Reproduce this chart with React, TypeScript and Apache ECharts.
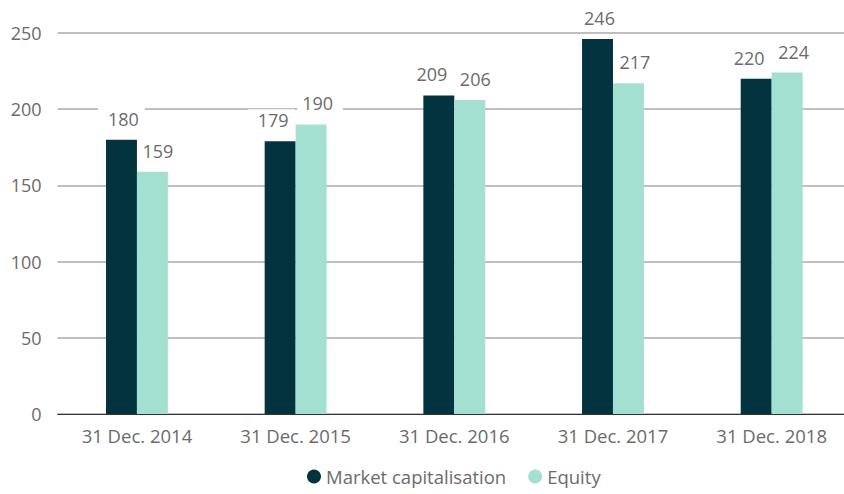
import React, { useEffect, useRef } from "react";
import * as echarts from "echarts";

const categories = ["31 Dec. 2014", "31 Dec. 2015", "31 Dec. 2016", "31 Dec. 2017", "31 Dec. 2018"];
const marketCap = [180, 179, 209, 246, 220];
const equity = [159, 190, 206, 217, 224];
const seriesNames = ["Market capitalisation", "Equity"];
// horizontal nudge of value labels where neighbouring labels would collide
const marketCapLabelShift = [0, -9, -9, 0, -9];
const equityLabelShift = [8, 9, 8, 9, 9];

const FONT = "'Open Sans', 'Noto Sans', sans-serif";
const TXT = "#6b6b6b";
const FS = 18.5;

export default function App() {
  const ref = useRef<HTMLDivElement>(null);
  useEffect(() => {
    if (!ref.current) return;
    const chart = echarts.init(ref.current, null, { renderer: "svg" });
    const label = {
      show: true,
      position: "top",
      distance: 10,
      color: TXT,
      fontSize: 18,
      fontFamily: FONT,
      backgroundColor: "#fff",
    };
    const build = (vals: number[], shifts: number[], padding: number[]) =>
      vals.map((v, i) => ({ value: v, label: { offset: [shifts[i], 0], padding } }));
    chart.setOption({
      animation: false,
      textStyle: { fontFamily: FONT },
      grid: { left: 57.6, right: 0, top: 33, bottom: 80, containLabel: false },
      legend: {
        bottom: 3,
        left: 302,
        icon: "circle",
        itemWidth: 14,
        itemHeight: 14,
        itemGap: 22,
        textStyle: { color: TXT, fontSize: FS, fontFamily: FONT },
        data: seriesNames,
      },
      xAxis: {
        type: "category",
        data: categories,
        axisLine: { lineStyle: { color: "#333", width: 1 } },
        axisTick: { show: false },
        axisLabel: { color: TXT, fontSize: FS, margin: 12, fontFamily: FONT },
      },
      yAxis: {
        type: "value",
        min: 0,
        max: 250,
        interval: 50,
        axisLine: { show: false },
        axisTick: { show: false },
        axisLabel: { color: TXT, fontSize: 18, margin: 16, fontFamily: FONT },
        splitLine: { lineStyle: { color: "#aaa", width: 1.5 } },
      },
      series: [
        {
          name: seriesNames[0],
          type: "bar",
          data: build(marketCap, marketCapLabelShift, [2, 6, 2, 10]),
          barWidth: "19.5%",
          barGap: "0%",
          itemStyle: { color: "#02333F" },
          label,
        },
        {
          name: seriesNames[1],
          type: "bar",
          data: build(equity, equityLabelShift, [2, 10, 2, 5]),
          barWidth: "19.5%",
          itemStyle: { color: "#A4E0D2" },
          label,
        },
      ],
    });
    return () => chart.dispose();
  }, []);
  return (
    <div style={{ position: "absolute", left: 0, top: 0, width: 844, height: 494, overflow: "hidden" }}>
      <div ref={ref} style={{ width: 851.4, height: 494 }} />
    </div>
  );
}
